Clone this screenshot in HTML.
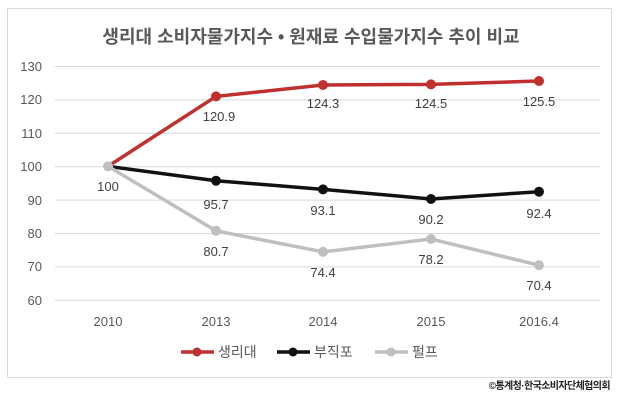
<!DOCTYPE html>
<html><head><meta charset="utf-8"><style>
html,body{margin:0;padding:0;background:#fff;}
svg{display:block;font-family:"Liberation Sans","Noto Sans CJK KR",sans-serif;}
</style></head><body>
<svg width="619" height="401" viewBox="0 0 619 401">
<rect x="7.5" y="8.5" width="604" height="369" fill="#fff" stroke="#d9d9d9"/>
<text x="311" y="43" text-anchor="middle" font-size="18" font-weight="bold" fill="#595959">생리대 소비자물가지수 • 원재료 수입물가지수 추이 비교</text>
<g stroke="#d9d9d9" stroke-width="1">
<line x1="55" y1="66.5" x2="600" y2="66.5"/><line x1="55" y1="99.9" x2="600" y2="99.9"/>
<line x1="55" y1="133.3" x2="600" y2="133.3"/><line x1="55" y1="166.7" x2="600" y2="166.7"/>
<line x1="55" y1="200.1" x2="600" y2="200.1"/><line x1="55" y1="233.5" x2="600" y2="233.5"/>
<line x1="55" y1="266.9" x2="600" y2="266.9"/><line x1="55" y1="300.3" x2="600" y2="300.3"/>
</g>
<g font-size="13" fill="#595959" text-anchor="end">
<text x="42" y="71">130</text><text x="42" y="104">120</text><text x="42" y="138">110</text>
<text x="42" y="171">100</text><text x="42" y="205">90</text><text x="42" y="238">80</text>
<text x="42" y="271">70</text><text x="42" y="305">60</text>
</g>
<g font-size="13" fill="#595959" text-anchor="middle">
<text x="108" y="326">2010</text><text x="216" y="326">2013</text><text x="323" y="326">2014</text>
<text x="431" y="326">2015</text><text x="539" y="326">2016.4</text>
</g>
<polyline points="108,166.3 216,96.4 323,85 431,84.4 539,81" fill="none" stroke="#c0302e" stroke-width="3.5"/>
<g fill="#c0302e"><circle cx="216" cy="96.4" r="5"/><circle cx="323" cy="85" r="5"/><circle cx="431" cy="84.4" r="5"/><circle cx="539" cy="81" r="5"/></g>
<polyline points="108,166.3 216,180.7 323,189.4 431,199 539,191.7" fill="none" stroke="#111" stroke-width="3.5"/>
<g fill="#111"><circle cx="216" cy="180.7" r="5"/><circle cx="323" cy="189.4" r="5"/><circle cx="431" cy="199" r="5"/><circle cx="539" cy="191.7" r="5"/></g>
<polyline points="108,166.3 216,230.8 323,251.9 431,239 539,265.2" fill="none" stroke="#bfbfbf" stroke-width="3.5"/>
<g fill="#bfbfbf"><circle cx="216" cy="230.8" r="5"/><circle cx="323" cy="251.9" r="5"/><circle cx="431" cy="239" r="5"/><circle cx="539" cy="265.2" r="5"/><circle cx="108" cy="166.3" r="5"/></g>
<g font-size="13" fill="#404040" text-anchor="middle">
<text x="108" y="191">100</text>
<text x="219" y="121">120.9</text><text x="323" y="108">124.3</text><text x="431" y="108">124.5</text><text x="539" y="106">125.5</text>
<text x="216" y="209">95.7</text><text x="323" y="215">93.1</text><text x="431" y="224">90.2</text><text x="539" y="218">92.4</text>
<text x="216" y="256">80.7</text><text x="323" y="277">74.4</text><text x="431" y="264">78.2</text><text x="539" y="290">70.4</text>
</g>
<g font-size="14" fill="#595959">
<line x1="181" y1="352" x2="214" y2="352" stroke="#c0302e" stroke-width="3.5"/><circle cx="197" cy="352" r="4.5" fill="#c0302e"/>
<text x="218" y="357">생리대</text>
<line x1="277" y1="352" x2="310" y2="352" stroke="#111" stroke-width="3.5"/><circle cx="293" cy="352" r="4.5" fill="#111"/>
<text x="314" y="357">부직포</text>
<line x1="375" y1="352" x2="408" y2="352" stroke="#bfbfbf" stroke-width="3.5"/><circle cx="391" cy="352" r="4.5" fill="#bfbfbf"/>
<text x="412" y="357">펄프</text>
</g>
<text x="610" y="389" text-anchor="end" font-size="10" font-weight="bold" fill="#222" letter-spacing="-0.6">©통계청·한국소비자단체협의회</text>
</svg>
</body></html>
